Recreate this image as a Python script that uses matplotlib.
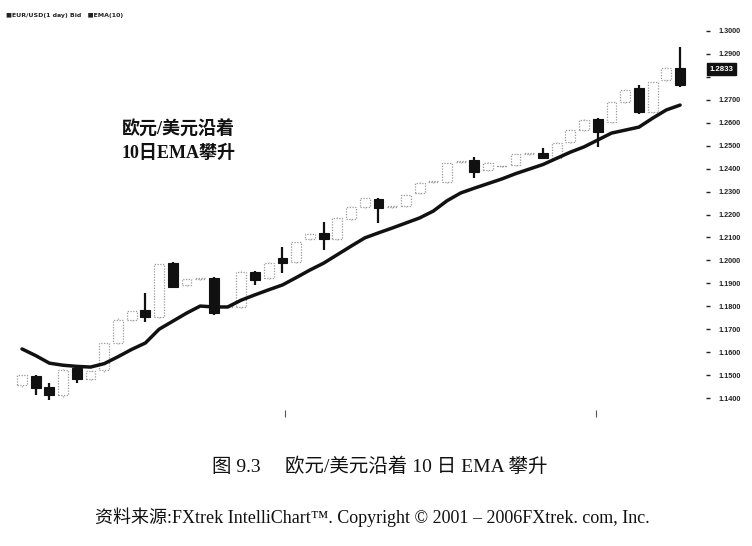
import matplotlib
matplotlib.use("Agg")
import matplotlib.pyplot as plt
import matplotlib.transforms as mtransforms
import numpy as np

# ---------------- data ----------------
opens = [1.1457, 1.1496, 1.1448, 1.1413, 1.1531, 1.1483, 1.1522, 1.1640, 1.1740, 1.1784,
         1.1753, 1.1988, 1.1893, 1.1919, 1.1923, 1.1797, 1.1797, 1.1949, 1.1923, 1.2010,
         1.1993, 1.2093, 1.2119, 1.2093, 1.2180, 1.2233, 1.2268, 1.2233, 1.2237, 1.2294,
         1.2342, 1.2342, 1.2429, 1.2438, 1.2394, 1.2411, 1.2416, 1.2464, 1.2468, 1.2446,
         1.2516, 1.2568, 1.2616, 1.2603, 1.2690, 1.2751, 1.2647, 1.2786, 1.2839]
highs = [1.1505, 1.1500, 1.1465, 1.1526, 1.1535, 1.1522, 1.1645, 1.1748, 1.1784, 1.1858,
         1.1990, 1.1993, 1.1923, 1.1925, 1.1928, 1.1800, 1.1953, 1.1953, 1.1993, 1.2058,
         1.2085, 1.2118, 1.2167, 1.2188, 1.2236, 1.2275, 1.2272, 1.2236, 1.2290, 1.2340,
         1.2345, 1.2428, 1.2432, 1.2451, 1.2428, 1.2414, 1.2468, 1.2467, 1.2490, 1.2516,
         1.2572, 1.2616, 1.2620, 1.2694, 1.2747, 1.2765, 1.2782, 1.2843, 1.2930]
lows = [1.1450, 1.1413, 1.1391, 1.1405, 1.1465, 1.1478, 1.1515, 1.1635, 1.1735, 1.1731,
        1.1748, 1.1880, 1.1888, 1.1915, 1.1762, 1.1794, 1.1793, 1.1893, 1.1919, 1.1945,
        1.1988, 1.2089, 1.2045, 1.2089, 1.2176, 1.2229, 1.2163, 1.2230, 1.2233, 1.2290,
        1.2339, 1.2338, 1.2426, 1.2359, 1.2390, 1.2408, 1.2412, 1.2461, 1.2442, 1.2442,
        1.2512, 1.2564, 1.2494, 1.2599, 1.2686, 1.2640, 1.2643, 1.2782, 1.2756]
closes = [1.1500, 1.1443, 1.1413, 1.1522, 1.1483, 1.1518, 1.1640, 1.1740, 1.1779, 1.1753,
          1.1984, 1.1884, 1.1919, 1.1921, 1.1771, 1.1797, 1.1949, 1.1914, 1.1988, 1.1988,
          1.2080, 1.2115, 1.2093, 1.2185, 1.2233, 1.2272, 1.2228, 1.2233, 1.2285, 1.2337,
          1.2342, 1.2424, 1.2429, 1.2385, 1.2424, 1.2411, 1.2464, 1.2464, 1.2446, 1.2512,
          1.2568, 1.2612, 1.2560, 1.2690, 1.2743, 1.2647, 1.2778, 1.2839, 1.2765]
ema10 = [1.1614, 1.1585, 1.1552, 1.1543, 1.1538, 1.1535, 1.1550, 1.1580, 1.1612, 1.1640,
         1.1700, 1.1735, 1.1770, 1.1801, 1.1797, 1.1797, 1.1827, 1.1850, 1.1872, 1.1893,
         1.1925, 1.1958, 1.1988, 1.2025, 1.2062, 1.2098, 1.2120, 1.2141, 1.2163, 1.2185,
         1.2215, 1.2260, 1.2294, 1.2315, 1.2335, 1.2355, 1.2378, 1.2398, 1.2418, 1.2445,
         1.2472, 1.2495, 1.2525, 1.2555, 1.2568, 1.2581, 1.2620, 1.2656, 1.2677]
price_ticks = [1.14, 1.15, 1.16, 1.17, 1.18, 1.19, 1.20, 1.21, 1.22, 1.23,
               1.24, 1.25, 1.26, 1.27, 1.28, 1.29, 1.30]
price_tick_labels = ["1.1400", "1.1500", "1.1600", "1.1700", "1.1800", "1.1900", "1.2000",
                     "1.2100", "1.2200", "1.2300", "1.2400", "1.2500", "1.2600", "1.2700",
                     "", "1.2900", "1.3000"]
last_price = 1.2833
last_price_label = "1.2833"
month_marks = [19.2, 41.9]

legend_text = "■EUR/USD(1 day) Bid   ■EMA(10)"
note_line1 = "欧元/美元沿着"
note_line2 = "10日EMA攀升"
caption = "图 9.3　 欧元/美元沿着 10 日 EMA 攀升"
source = "资料来源:FXtrek IntelliChart™. Copyright © 2001 – 2006FXtrek. com, Inc."

# ---------------- figure ----------------
W, H = 752, 546
fig = plt.figure(figsize=(W / 100, H / 100), dpi=100)
fig.patch.set_facecolor("white")

left_px, right_px, top_px, bot_px = 10, 706, 20, 410
ax = fig.add_axes([left_px / W, 1 - bot_px / H, (right_px - left_px) / W, (bot_px - top_px) / H])
ax.set_facecolor("white")

x = np.arange(len(opens))
o = np.array(opens); c = np.array(closes); hi = np.array(highs); lo = np.array(lows)
up = c >= o

body_w = 0.72
# wicks
ax.vlines(x[~up], lo[~up], hi[~up], color="#111111", lw=1.6, zorder=2)
ax.vlines(x[up], lo[up], hi[up], color="#a5a5a5", lw=0.9, linestyles=(0, (1, 1.2)), zorder=2)
# bodies
bottoms = np.minimum(o, c)
heights = np.maximum(np.abs(c - o), 0.00025)
ax.bar(x[~up], heights[~up], bottom=bottoms[~up], width=body_w,
       color="#111111", edgecolor="#111111", lw=0.8, zorder=3)
ax.bar(x[up], heights[up], bottom=bottoms[up], width=body_w,
       color="white", edgecolor="#9a9a9a", lw=0.9, linestyle=(0, (1, 1.2)), zorder=3)

# EMA line
ax.plot(x, ema10, color="#111111", lw=2.5, solid_capstyle="round", zorder=4)

# axis ranges (index 0 at px 22, 13.71 px per candle; 1.30 at py 31, 22.94 px per 0.01)
ax.set_xlim((left_px - 22) / 13.71, (right_px - 22) / 13.71)
ax.set_ylim(1.30 - (bot_px - 31) * 0.01 / 22.94, 1.30 + (31 - top_px) * 0.01 / 22.94)

for s in ax.spines.values():
    s.set_visible(False)
ax.yaxis.tick_right()
ax.set_yticks(price_ticks)
ax.set_yticklabels(price_tick_labels)
ax.tick_params(axis="y", direction="out", length=3, width=1.0, pad=6,
               labelsize=5.2, colors="#222222")
for t in ax.get_yticklabels():
    t.set_fontfamily("Liberation Sans")
    t.set_fontweight("bold")
ax.set_xticks(month_marks)
ax.set_xticklabels(["", ""])
ax.tick_params(axis="x", direction="out", length=5, width=0.8, colors="#555555")

# current price box
trans = mtransforms.blended_transform_factory(ax.transAxes, ax.transData)
ax.text(1.005, last_price, last_price_label, transform=trans, ha="left", va="center",
        fontsize=5.6, color="white", fontweight="bold", family="Liberation Sans",
        bbox=dict(boxstyle="square,pad=0.3", fc="#111111", ec="#111111"))

# legend text
fig.text(6 / W, 1 - 16 / H, legend_text, fontsize=4.5, color="#222222",
         family=["DejaVu Sans"], va="center", ha="left", fontweight="bold")

# annotation
note_fam = ["Liberation Serif", "Noto Sans CJK SC"]
fig.text(122 / W, 1 - 130 / H, note_line1, fontsize=13, family=note_fam,
         fontweight="bold", va="center", ha="left", color="#111111")
fig.text(122 / W, 1 - 153 / H, note_line2, fontsize=13, family=note_fam,
         fontweight="bold", va="center", ha="left", color="#111111")

# caption and source
fig.text(380 / W, 1 - 467 / H, caption, fontsize=14, family=note_fam,
         va="center", ha="center", color="#111111")
fig.text(372 / W, 1 - 517 / H, source, fontsize=13, family=note_fam,
         va="center", ha="center", color="#111111")

fig.savefig("out.png", dpi=100, facecolor="white")
